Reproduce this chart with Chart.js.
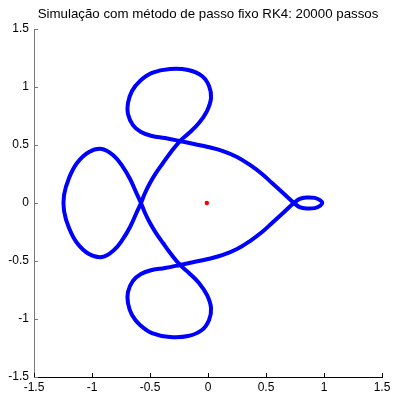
<!DOCTYPE html>
<html>
<head>
<meta charset="utf-8">
<script src="https://cdn.jsdelivr.net/npm/chart.js@4/dist/chart.umd.min.js"></script>
<style>
  html, body { margin: 0; padding: 0; background: #fff; }
  #wrap { width: 394px; height: 397px; }
</style>
</head>
<body>
<div id="wrap"><canvas id="c" width="394" height="397"></canvas></div>
<script>
// trajectory, one full period starting at the right crossing
const orbitX = [
  0.74, 0.647, 0.552, 0.466, 0.362, 0.25, 0.129, 0.0, -0.121, -0.241,
  -0.371, -0.483, -0.578, -0.647, -0.69, -0.69, -0.655, -0.586, -0.483, -0.328,
  -0.172, -0.052, 0.009, 0.026, -0.009, -0.078, -0.164, -0.241,
  -0.319, -0.388, -0.448, -0.5, -0.543, -0.578,
  -0.621, -0.672, -0.733, -0.81, -0.914, -1.026, -1.129, -1.198, -1.241,
  -1.241, -1.198, -1.129, -1.026, -0.914, -0.81, -0.733, -0.672, -0.621, -0.578,
  -0.543, -0.5, -0.448, -0.388, -0.319, -0.241,
  -0.164, -0.078, -0.009, 0.026, 0.009, -0.052, -0.172, -0.328, -0.483, -0.586,
  -0.655, -0.69, -0.69, -0.647, -0.578, -0.483, -0.371, -0.241,
  -0.121, 0.0, 0.129, 0.25, 0.362, 0.466, 0.552, 0.647, 0.74,
  0.79, 0.85, 0.92, 0.965, 0.985, 0.965, 0.92, 0.85, 0.79, 0.74
];
const orbitY = [
  0.0, 0.086, 0.172, 0.25, 0.328, 0.397, 0.448, 0.483, 0.509, 0.534,
  0.56, 0.578, 0.612, 0.672, 0.767, 0.862, 0.966, 1.052, 1.121, 1.155,
  1.147, 1.095, 1.009, 0.905, 0.793, 0.69, 0.603, 0.534,
  0.44, 0.345, 0.259, 0.172, 0.086, 0.0,
  -0.095, -0.207, -0.31, -0.405, -0.466, -0.44, -0.345, -0.216, -0.069,
  0.069, 0.216, 0.345, 0.44, 0.466, 0.405, 0.31, 0.207, 0.095, 0.0,
  -0.086, -0.172, -0.259, -0.345, -0.44, -0.534,
  -0.603, -0.69, -0.793, -0.905, -1.009, -1.095, -1.147, -1.155, -1.121, -1.052,
  -0.966, -0.862, -0.767, -0.672, -0.612, -0.578, -0.56, -0.534,
  -0.509, -0.483, -0.448, -0.397, -0.328, -0.25, -0.172, -0.086, 0.0,
  0.035, 0.047, 0.044, 0.025, 0.0, -0.025, -0.044, -0.047, -0.035, 0.0
];
// centre of mass marker
const centerX = [-0.01];
const centerY = [0.0];

const tickValues = [-1.5, -1, -0.5, 0, 0.5, 1, 1.5];
const titleText = 'Simulação com método de passo fixo RK4: 20000 passos';

const toPoints = (xs, ys) => xs.map((x, i) => ({ x: x, y: ys[i] }));

const fontFam = '"Liberation Sans", Arial, Helvetica, sans-serif';

// MATLAB-style inward tick marks + title centred over the axes
const axesDecor = {
  id: 'axesDecor',
  afterDraw(chart) {
    const ctx = chart.ctx;
    const { x, y } = chart.scales;
    const a = chart.chartArea;
    ctx.save();
    ctx.lineWidth = 1;
    ctx.strokeStyle = '#000';
    tickValues.forEach(v => {
      const px = Math.round(x.getPixelForValue(v)) + 0.5;
      ctx.beginPath();
      ctx.moveTo(px, a.bottom);
      ctx.lineTo(px, a.bottom - 4);
      ctx.stroke();
    });
    ctx.strokeStyle = '#777';
    tickValues.forEach(v => {
      const py = Math.round(y.getPixelForValue(v)) + 0.5;
      ctx.beginPath();
      ctx.moveTo(a.left, py);
      ctx.lineTo(a.left + 4, py);
      ctx.stroke();
    });
    ctx.fillStyle = '#000';
    ctx.font = '13.3px ' + fontFam;
    ctx.textAlign = 'center';
    ctx.textBaseline = 'middle';
    ctx.fillText(titleText, (a.left + a.right) / 2, 14);
    ctx.restore();
  }
};

new Chart(document.getElementById('c'), {
  type: 'scatter',
  data: {
    datasets: [
      {
        data: toPoints(centerX, centerY),
        pointRadius: 2.2,
        pointBackgroundColor: '#ff0000',
        pointBorderWidth: 0,
        showLine: false
      },
      {
        data: toPoints(orbitX, orbitY),
        showLine: true,
        borderColor: '#0000ff',
        borderWidth: 4,
        tension: 0.4,
        pointRadius: 0,
        fill: false
      }
    ]
  },
  options: {
    responsive: false,
    animation: false,
    layout: { padding: { left: 0, right: 12, top: 29, bottom: 0 } },
    plugins: {
      legend: { display: false },
      tooltip: { enabled: false },
      title: { display: false }
    },
    scales: {
      x: {
        type: 'linear',
        min: -1.5,
        max: 1.5,
        afterBuildTicks: s => { s.ticks = tickValues.map(v => ({ value: v })); },
        afterFit: s => { s.height = 20; },
        grid: { display: false, drawTicks: false },
        border: { display: true, color: '#000', width: 1 },
        ticks: {
          padding: 3,
          color: '#000',
          maxRotation: 0,
          font: { family: fontFam, size: 12 },
          callback: v => String(v)
        }
      },
      y: {
        type: 'linear',
        min: -1.5,
        max: 1.5,
        afterBuildTicks: s => { s.ticks = tickValues.map(v => ({ value: v })); },
        afterFit: s => { s.width = 34; },
        grid: { display: false, drawTicks: false },
        border: { display: true, color: '#777', width: 1 },
        ticks: {
          padding: 5,
          color: '#000',
          font: { family: fontFam, size: 12 },
          callback: v => String(v)
        }
      }
    }
  },
  plugins: [axesDecor]
});
</script>
</body>
</html>
